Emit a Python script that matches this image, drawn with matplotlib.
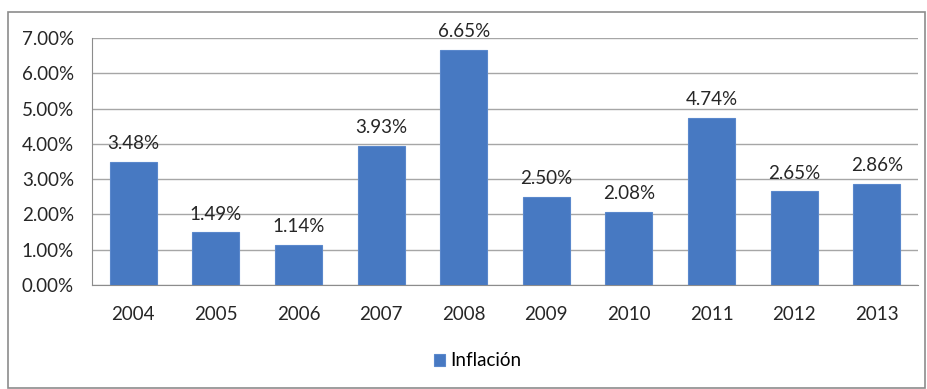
import matplotlib.pyplot as plt
from matplotlib.patches import Rectangle

years = ["2004", "2005", "2006", "2007", "2008", "2009", "2010", "2011", "2012", "2013"]
inflacion = [3.48, 1.49, 1.14, 3.93, 6.65, 2.50, 2.08, 4.74, 2.65, 2.86]
y_ticks = [0, 1, 2, 3, 4, 5, 6, 7]

plt.rcParams['font.family'] = ['Lato', 'DejaVu Sans']
FS = 13.5
TXT = '#262626'

fig = plt.figure(figsize=(9.28, 3.89), dpi=100)
fig.patches.append(Rectangle((8 / 928, 1 / 389), 917 / 928, 376 / 389, transform=fig.transFigure,
                             fill=False, edgecolor='#8c8c8c', linewidth=1.2))
ax = fig.add_axes([92 / 928, 104 / 389, 826 / 928, 247 / 389])

x = range(len(years))
bars = ax.bar(x, inflacion, width=0.57, color='#4779c2', edgecolor='#5a88cc', linewidth=0.8,
              label='Inflación', zorder=3)
for xi, v in zip(x, inflacion):
    ax.text(xi, v + 0.28, f"{v:.2f}%", ha='center', va='bottom', fontsize=FS, color=TXT)

ax.set_xlim(-0.5, len(years) - 0.5)
ax.set_ylim(0, 7)
ax.set_yticks(y_ticks)
ax.set_yticklabels([f"{t:.2f}%" for t in y_ticks], fontsize=FS, color=TXT)
ax.set_xticks(list(x))
ax.set_xticklabels(years, fontsize=FS, color=TXT)
ax.tick_params(axis='both', length=0)
ax.tick_params(axis='x', pad=15)
ax.tick_params(axis='y', pad=13)
ax.yaxis.grid(True, color='#a6a6a6', linewidth=1, zorder=0)
for side in ['top', 'right']:
    ax.spines[side].set_visible(False)
ax.spines['left'].set_color('#8c8c8c')
ax.spines['bottom'].set_color('#8c8c8c')

fig.legend(handles=[bars], labels=['Inflación'], loc='center', bbox_to_anchor=(478 / 928, 28 / 389),
           frameon=False, fontsize=FS, handlelength=0.55, handleheight=0.55, handletextpad=0.3)

plt.savefig('out.png', dpi=100)
